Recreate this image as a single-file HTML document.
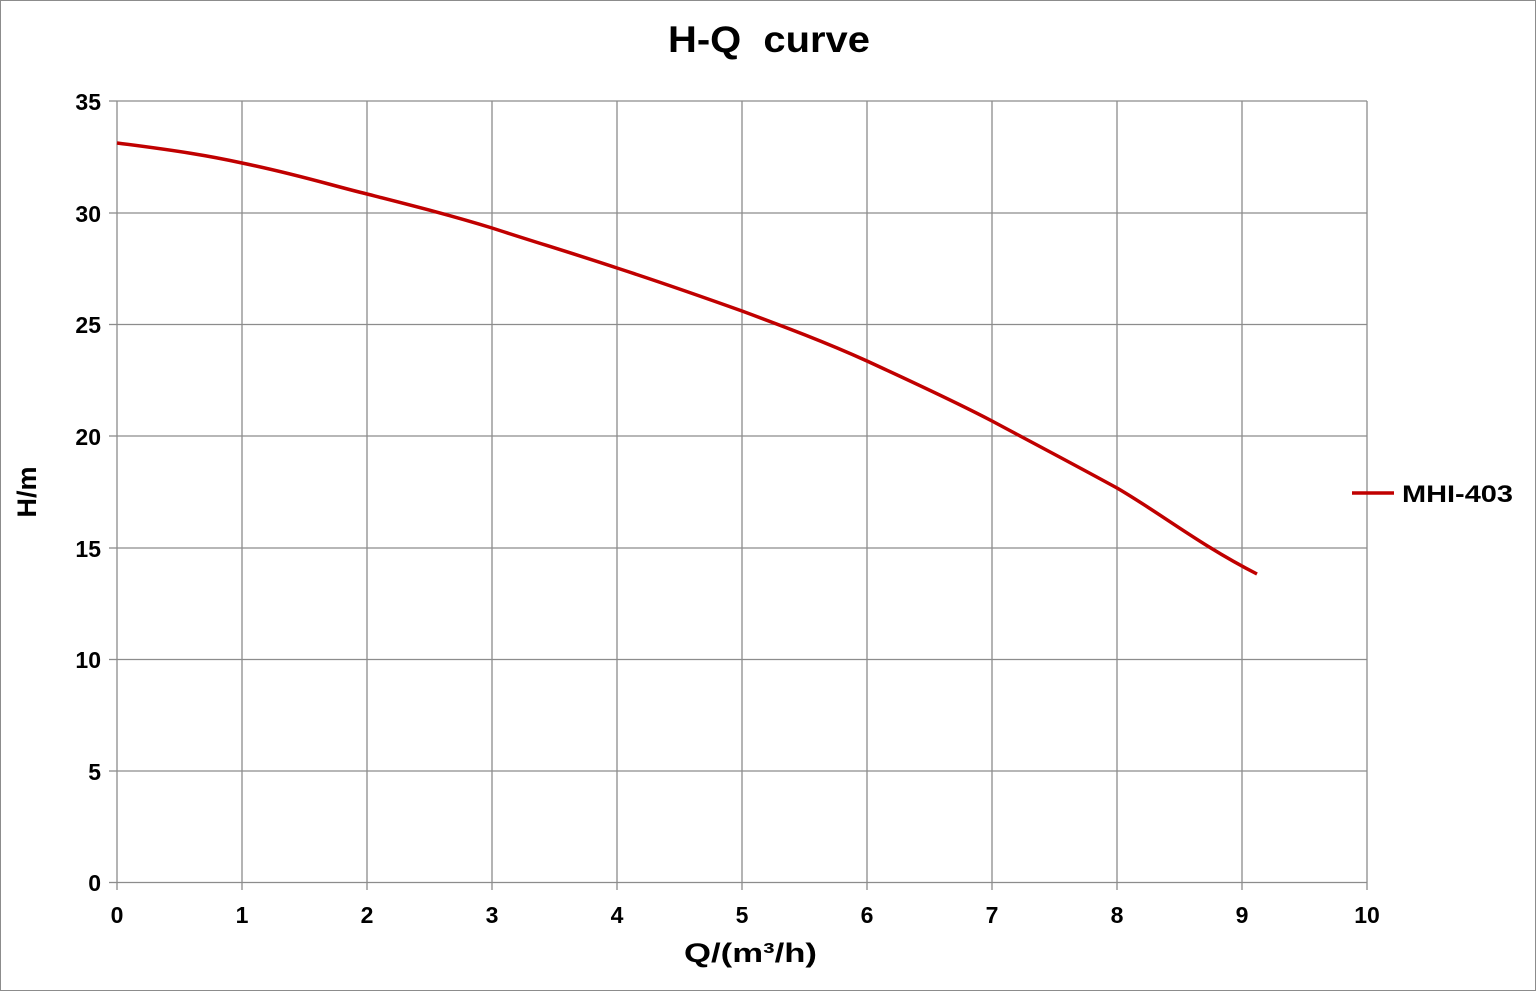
<!DOCTYPE html>
<html><head><meta charset="utf-8"><style>
body{margin:0;background:#fff}
svg{display:block}
text{font-family:"Liberation Sans",sans-serif;font-weight:bold;fill:#000}
</style></head><body>
<svg width="1536" height="991" viewBox="0 0 1536 991">
<rect x="0.5" y="0.5" width="1535" height="990" fill="#fff" stroke="#8c8c8c"/>
<text x="668" y="52" font-size="37" textLength="202" lengthAdjust="spacingAndGlyphs" xml:space="preserve">H-Q  curve</text>
<g stroke="#8c8c8c" stroke-width="1.3">
<line x1="117" y1="101" x2="1367" y2="101"/>
<line x1="117" y1="213" x2="1367" y2="213"/>
<line x1="117" y1="324.5" x2="1367" y2="324.5"/>
<line x1="117" y1="436" x2="1367" y2="436"/>
<line x1="117" y1="548" x2="1367" y2="548"/>
<line x1="117" y1="659.5" x2="1367" y2="659.5"/>
<line x1="117" y1="771" x2="1367" y2="771"/>
<line x1="117" y1="882.5" x2="1367" y2="882.5"/>
<line x1="117" y1="101" x2="117" y2="890"/>
<line x1="242" y1="101" x2="242" y2="890"/>
<line x1="367" y1="101" x2="367" y2="890"/>
<line x1="492" y1="101" x2="492" y2="890"/>
<line x1="617" y1="101" x2="617" y2="890"/>
<line x1="742" y1="101" x2="742" y2="890"/>
<line x1="867" y1="101" x2="867" y2="890"/>
<line x1="992" y1="101" x2="992" y2="890"/>
<line x1="1117" y1="101" x2="1117" y2="890"/>
<line x1="1242" y1="101" x2="1242" y2="890"/>
<line x1="1367" y1="101" x2="1367" y2="890"/>
<line x1="109" y1="101" x2="117" y2="101"/>
<line x1="109" y1="213" x2="117" y2="213"/>
<line x1="109" y1="324.5" x2="117" y2="324.5"/>
<line x1="109" y1="436" x2="117" y2="436"/>
<line x1="109" y1="548" x2="117" y2="548"/>
<line x1="109" y1="659.5" x2="117" y2="659.5"/>
<line x1="109" y1="771" x2="117" y2="771"/>
<line x1="109" y1="882.5" x2="117" y2="882.5"/>
</g>
<g font-size="23" text-anchor="end">
<text x="101" y="110">35</text><text x="101" y="222">30</text><text x="101" y="333">25</text>
<text x="101" y="445">20</text><text x="101" y="557">15</text><text x="101" y="668">10</text>
<text x="101" y="780">5</text><text x="101" y="891">0</text>
</g>
<g font-size="23" text-anchor="middle">
<text x="117" y="923">0</text><text x="242" y="923">1</text><text x="367" y="923">2</text>
<text x="492" y="923">3</text><text x="617" y="923">4</text><text x="742" y="923">5</text>
<text x="867" y="923">6</text><text x="992" y="923">7</text><text x="1117" y="923">8</text>
<text x="1242" y="923">9</text><text x="1367" y="923">10</text>
</g>
<text x="684" y="962" font-size="27" textLength="133" lengthAdjust="spacingAndGlyphs">Q/(m³/h)</text>
<text transform="translate(36,492) rotate(-90)" font-size="27" text-anchor="middle">H/m</text>
<path d="M117,143 C180,151 210,156 242,163 C300,175 330,185 367,194 C410,205 450,215 492,228 C535,242 575,254 617,268 C660,282 700,296 742,311 C785,327 825,342 867,361 C910,381 950,399 992,421 C1035,444 1075,465 1117,488 C1160,513 1200,545 1257,574" fill="none" stroke="#c00000" stroke-width="3.5"/>
<line x1="1352" y1="493" x2="1394" y2="493" stroke="#c00000" stroke-width="3.5"/>
<text x="1402" y="502" font-size="24" textLength="111" lengthAdjust="spacingAndGlyphs">MHI-403</text>
</svg>
</body></html>
